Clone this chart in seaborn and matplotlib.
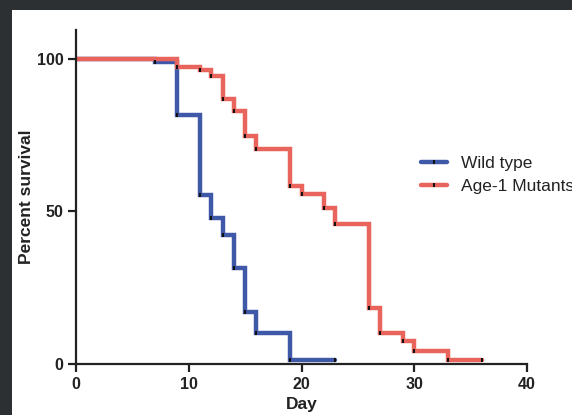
import matplotlib
matplotlib.use("Agg")
import matplotlib.pyplot as plt
from matplotlib.patches import Rectangle
from matplotlib.lines import Line2D
import seaborn as sns
import pandas as pd

# ---- data ----
wt_days = [0, 7, 9, 11, 12, 13, 14, 15, 16, 19, 23]
wt_surv = [100, 98.9, 81.6, 55.5, 47.8, 42.3, 31.4, 16.9, 10.3, 1.2, 1.2]
wt_censor_days = [7, 9, 11, 12, 13, 14, 15, 16, 19, 23]
wt_censor_surv = [98.9, 81.6, 55.5, 47.8, 42.3, 31.4, 16.9, 10.3, 1.2, 1.2]

mut_days = [0, 9, 11, 12, 13, 14, 15, 16, 19, 20, 22, 23, 26, 27, 29, 30, 33, 36]
mut_surv = [100, 97.3, 96.4, 94.5, 87.0, 83.0, 74.6, 70.5, 58.3, 55.6, 51.1, 46.0,
            18.3, 10.0, 7.4, 4.4, 1.2, 1.2]
mut_censor_days = [9, 11, 12, 13, 14, 15, 16, 19, 20, 22, 23, 26, 27, 29, 30, 33, 36]
mut_censor_surv = [97.3, 96.4, 94.5, 87.0, 83.0, 74.6, 70.5, 58.3, 55.6, 51.1, 46.0,
                   18.3, 10.0, 7.4, 4.4, 1.2, 1.2]

groups = ["Wild type", "Age-1 Mutants"]
colors = ["#3f59a8", "#e8645c"]
x_ticks = [0, 10, 20, 30, 40]
y_ticks = [0, 50, 100]

df = pd.concat([
    pd.DataFrame({"Day": wt_days, "Percent survival": wt_surv, "group": groups[0]}),
    pd.DataFrame({"Day": mut_days, "Percent survival": mut_surv, "group": groups[1]}),
], ignore_index=True)
cens = pd.concat([
    pd.DataFrame({"Day": wt_censor_days, "Percent survival": wt_censor_surv, "group": groups[0]}),
    pd.DataFrame({"Day": mut_censor_days, "Percent survival": mut_censor_surv, "group": groups[1]}),
], ignore_index=True)

sns.set_theme(style="white")
plt.rcParams["font.family"] = ["Liberation Sans", "DejaVu Sans"]

W, H = 572, 415
fig = plt.figure(figsize=(W / 100, H / 100), dpi=100)
fig.patch.set_facecolor("#2c3032")
fig.add_artist(Rectangle((12 / W, 0), 1 - 12 / W, (H - 10) / H,
                         transform=fig.transFigure, facecolor="white",
                         edgecolor="none", zorder=-10))

ax = fig.add_axes([76 / W, (H - 364) / H, (527 - 76) / W, (364 - 30) / H])
ax.set_facecolor("white")

for g, c in zip(groups, colors):
    sub = df[df["group"] == g]
    sns.lineplot(data=sub, x="Day", y="Percent survival", ax=ax, color=c,
                 drawstyle="steps-post", estimator=None, sort=False,
                 linewidth=3.2, solid_joinstyle="miter", legend=False)
    csub = cens[cens["group"] == g]
    sns.scatterplot(data=csub, x="Day", y="Percent survival", ax=ax,
                    marker="|", s=9, color="#111111", linewidth=1.5,
                    legend=False, zorder=5)

ax.set_xlim(0, 40)
ax.set_ylim(0, 109.5)
ax.set_xticks(x_ticks)
ax.set_yticks(y_ticks)
ax.set_xticklabels([str(t) for t in x_ticks], fontweight="bold", fontsize=11.5)
ax.set_yticklabels([str(t) for t in y_ticks], fontweight="bold", fontsize=11.5)
ax.tick_params(axis="both", which="major", direction="out", length=6, width=1.6,
               color="#222222", labelcolor="#222222", pad=3,
               bottom=True, left=True)

for side in ["top", "right"]:
    ax.spines[side].set_visible(False)
for side in ["left", "bottom"]:
    ax.spines[side].set_linewidth(1.6)
    ax.spines[side].set_color("#222222")

ax.set_xlabel("Day", fontweight="bold", fontsize=12.5, color="#222222")
ax.set_ylabel("Percent survival", fontweight="bold", fontsize=12.5, color="#222222")
ax.xaxis.set_label_coords(0.5, -0.1)
ax.yaxis.set_label_coords(-0.093, 0.5)

handles = [Line2D([0], [0], color=c, linewidth=3.2, marker="|", markersize=3,
                  markeredgecolor="#111111", markeredgewidth=1.5) for c in colors]
leg = fig.legend(handles, groups, loc="center left",
                 bbox_to_anchor=(421 / W, 1 - 175 / H), frameon=False,
                 fontsize=12.5, handlelength=1.5, handletextpad=0.8,
                 labelspacing=0.45, borderaxespad=0, borderpad=0)
for t in leg.get_texts():
    t.set_color("#222222")

fig.savefig("out.png", dpi=100)
